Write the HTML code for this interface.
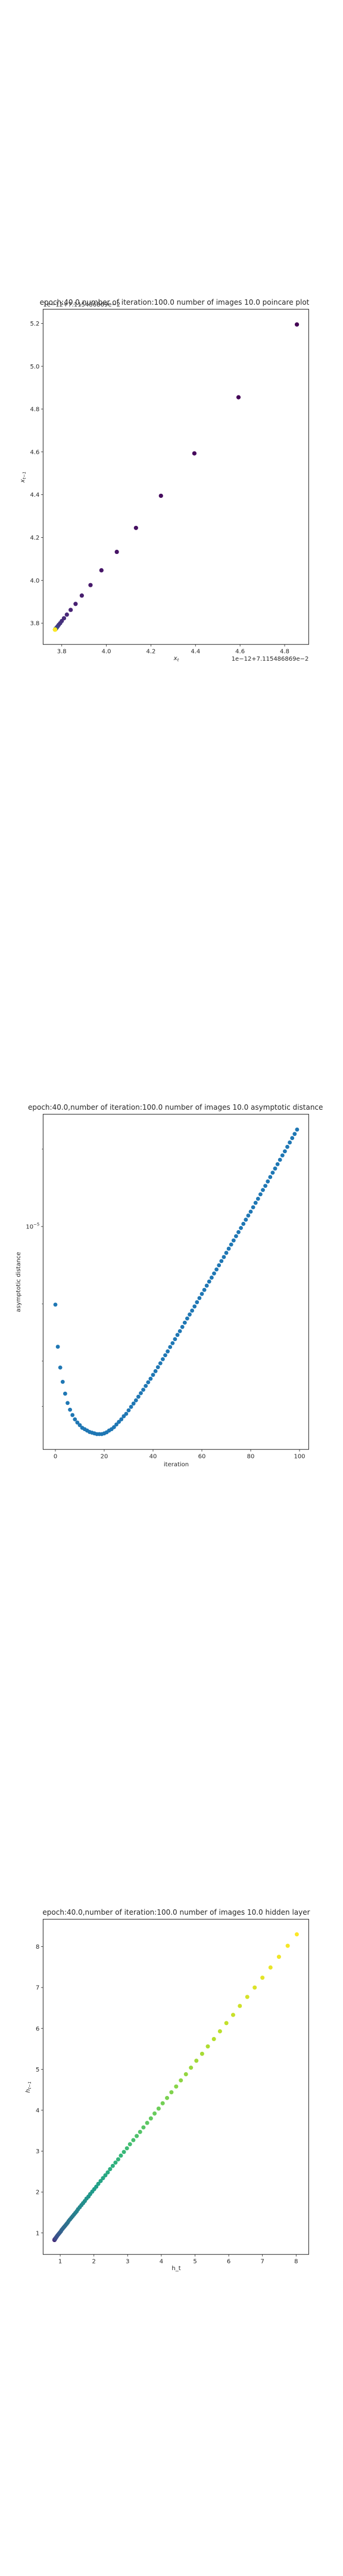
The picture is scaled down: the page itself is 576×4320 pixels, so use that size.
<!DOCTYPE html>
<html><head><meta charset="utf-8"><style>
html,body{margin:0;padding:0;background:#fff}
svg{display:block}
text{font-family:"DejaVu Sans","Liberation Sans",sans-serif;fill:#262626}
</style></head><body>
<svg id="fig" width="576" height="4320" viewBox="0 0 576 4320" xmlns="http://www.w3.org/2000/svg"></svg>
<script>
// ---- Chart 1: poincare plot (sequence x; points are (x[i+1], x[i]))
const poincareSeq = [5.195,4.855,4.593,4.395,4.245,4.133,4.047,3.978,3.929,3.890,3.862,3.840,3.823,3.810,3.800,3.793,3.787,3.783,3.780,3.778,3.776,3.775,3.774,3.773,3.772,3.7715,3.771,3.7708,3.7706,3.7705,3.7704,3.7703,3.7702,3.7702,3.7701,3.7701,3.770,3.770,3.770,3.770,3.770,3.770,3.770,3.770,3.770,3.770,3.770,3.770,3.770,3.770,3.770,3.770,3.770,3.770,3.770,3.770,3.770,3.770,3.770,3.770,3.770,3.770,3.770,3.770,3.770,3.770,3.770,3.770,3.770,3.770,3.770,3.770,3.770,3.770,3.770,3.770,3.770,3.770,3.770,3.770,3.770,3.770,3.770,3.770,3.770,3.770,3.770,3.770,3.770,3.770,3.770,3.770,3.770,3.770,3.770,3.770,3.770,3.770,3.770,3.770];
const poincareXTicks = [3.8,4.0,4.2,4.4,4.6,4.8];
const poincareXTickLabels = ["3.8","4.0","4.2","4.4","4.6","4.8"];
const poincareYTicks = [3.8,4.0,4.2,4.4,4.6,4.8,5.0,5.2];
const poincareYTickLabels = ["3.8","4.0","4.2","4.4","4.6","4.8","5.0","5.2"];

// ---- Chart 2: asymptotic distance (units of 1e-6)
const distIter = Array.from({length:100},(_, i)=>i);
const distValues = [4.97,3.41,2.83,2.49,2.24,2.06,1.94,1.85,1.78,1.73,1.69,1.65,1.63,1.61,1.59,1.58,1.57,1.56,1.56,1.56,1.57,1.585,1.61,1.63,1.66,1.70,1.74,1.78,1.83,1.87,1.93,1.99,2.05,2.11,2.18,2.25,2.32,2.40,2.48,2.56,2.65,2.74,2.84,2.94,3.05,3.16,3.27,3.40,3.52,3.65,3.79,3.92,4.07,4.23,4.39,4.55,4.71,4.89,5.08,5.27,5.47,5.67,5.89,6.11,6.33,6.57,6.81,7.07,7.34,7.61,7.90,8.20,8.51,8.83,9.17,9.51,9.87,10.24,10.63,11.03,11.42,11.88,12.36,12.82,13.34,13.87,14.39,14.97,15.57,16.19,16.80,17.47,18.17,18.90,19.61,20.40,21.22,22.07,22.90,23.82];
const distXTicks = [0,20,40,60,80,100];
const distXTickLabels = ["0","20","40","60","80","100"];
const distMinorTicks = [20,5,3,2];

// ---- Chart 3: hidden layer (sequence h ascending; points (h[i], h[i+1]))
const hiddenSeq = [0.830,0.830,0.830,0.830,0.830,0.830,0.830,0.830,0.830,0.830,0.831,0.832,0.833,0.834,0.836,0.838,0.840,0.845,0.850,0.855,0.860,0.870,0.880,0.890,0.905,0.920,0.940,0.960,0.980,1.00,1.02,1.04,1.07,1.10,1.13,1.16,1.19,1.22,1.25,1.29,1.33,1.37,1.41,1.45,1.49,1.53,1.58,1.63,1.68,1.73,1.78,1.84,1.89,1.95,2.01,2.07,2.13,2.20,2.27,2.34,2.41,2.48,2.56,2.64,2.72,2.80,2.89,2.98,3.07,3.17,3.27,3.37,3.47,3.58,3.69,3.80,3.92,4.04,4.17,4.30,4.44,4.58,4.73,4.88,5.04,5.21,5.38,5.56,5.74,5.93,6.13,6.33,6.55,6.77,7.00,7.24,7.49,7.75,8.02,8.30];
const hiddenXTicks = [1,2,3,4,5,6,7,8];
const hiddenYTicks = [1,2,3,4,5,6,7,8];

const NS="http://www.w3.org/2000/svg";
const svg=document.getElementById('fig');
function mk(tag, attrs, parent){const e=document.createElementNS(NS,tag);for(const k in attrs)e.setAttribute(k,attrs[k]);(parent||svg).appendChild(e);return e;}
const VIR=[[68,1,84],[72,40,120],[62,74,137],[49,104,142],[38,130,142],[31,158,137],[53,183,121],[110,206,88],[181,222,43],[253,231,37]];
function viridis(t){t=Math.max(0,Math.min(1,t));const s=t*(VIR.length-1);const i=Math.min(VIR.length-2,Math.floor(s));const f=s-i;const c=VIR[i].map((v,k)=>Math.round(v+(VIR[i+1][k]-v)*f));return `rgb(${c[0]},${c[1]},${c[2]})`;}

function frame(g,L,R,T,B){
  const r=mk('rect',{x:L,y:T,width:R-L,height:B-T,fill:'none',stroke:'#262626','stroke-width':1},g);
  
  
}
function xtick(g,x,B,label){
  const l=mk('line',{x1:x,y1:B,x2:x,y2:B+3.5,stroke:'#262626','stroke-width':0.8},g);
  
  
  if(label!==null){const t=mk('text',{x:x,y:B+15,'text-anchor':'middle','font-size':'10px'},g);t.textContent=label;
  
  }
}
function ytick(g,L,y,label,len){
  const l=mk('line',{x1:L-(len||3.5),y1:y,x2:L,y2:y,stroke:'#262626','stroke-width':0.8},g);
  
  
  if(label!==null){const t=mk('text',{x:L-6,y:y+3.6,'text-anchor':'end','font-size':'10px'},g);t.innerHTML=label;
  
  }
}
function txt(g,x,y,s,size,anchor,name,rot){
  const t=mk('text',{x:x,y:y,'text-anchor':anchor||'middle','font-size':size},g);
  if(rot)t.setAttribute('transform',`rotate(-90 ${x} ${y})`);
  t.innerHTML=s;
  
  
  return t;
}

// ===== Chart 1
(function(){
  const g=mk('g',{});
  
  
  const L=72.4,R=518.4,T=518.6,B=1080.7;
  const xs=v=>103.7+(v-3.8)*374.3;
  const ys=v=>1045.1-(v-3.8)*359.1;
  const n=poincareSeq.length-1;
  for(let i=0;i<n;i++){
    const c=mk('circle',{cx:xs(poincareSeq[i+1]),cy:ys(poincareSeq[i]),r:3.6,fill:viridis(i/(n-1))},g);
    
    
  }
  frame(g,L,R,T,B);
  poincareXTicks.forEach((v,i)=>xtick(g,xs(v),B,poincareXTickLabels[i]));
  poincareYTicks.forEach((v,i)=>ytick(g,L,ys(v),poincareYTickLabels[i]));
  txt(g,293,511,'epoch:40.0,number of iteration:100.0 number of images 10.0 poincare plot','12px','middle','chart-title');
  txt(g,L,514,'1e−12+7.115486869e−2','10px','start','y-offset-text');
  txt(g,R,1108,'1e−12+7.115486869e−2','10px','end','x-offset-text');
  txt(g,296,1107,'<tspan font-style="italic">x</tspan><tspan font-size="7px" font-style="italic" dy="2">t</tspan>','10px','middle','x-axis-title');
  txt(g,41,800,'<tspan font-style="italic">x</tspan><tspan font-size="7px" font-style="italic" dy="2">t−1</tspan>','10px','middle','y-axis-title',true);
})();

// ===== Chart 2
(function(){
  const g=mk('g',{});
  
  
  const L=72.4,R=518.4,T=1868.6,B=2430.7;
  const xs=v=>93+v*4.1;
  const ys=v=>2056.9-Math.log10(v/10)*431.4; // v in 1e-6
  distValues.forEach((v,i)=>{
    const c=mk('circle',{cx:xs(distIter[i]),cy:ys(v),r:3.4,fill:'#1f77b4'},g);
    
    
  });
  frame(g,L,R,T,B);
  distXTicks.forEach((v,i)=>xtick(g,xs(v),B,distXTickLabels[i]));
  ytick(g,L,ys(10),'10<tspan font-size="7px" dy="-5">−5</tspan>');
  distMinorTicks.forEach(v=>ytick(g,L,ys(v),null,2));
  txt(g,294.7,1861,'epoch:40.0,number of iteration:100.0  number of images 10.0 asymptotic distance','12px','middle','chart-title');
  txt(g,296,2459,'iteration','10px','middle','x-axis-title');
  txt(g,34,2150,'asymptotic distance','10px','middle','y-axis-title',true);
})();

// ===== Chart 3
(function(){
  const g=mk('g',{});
  
  
  const L=72.4,R=518.4,T=3218.6,B=3780.7;
  const xs=v=>101.1+(v-1)*56.6;
  const ys=v=>3744.7-(v-1)*68.6;
  const n=hiddenSeq.length-1;
  for(let i=0;i<n;i++){
    const c=mk('circle',{cx:xs(hiddenSeq[i]),cy:ys(hiddenSeq[i+1]),r:3.5,fill:viridis(i/(n-1))},g);
    
    
  }
  frame(g,L,R,T,B);
  hiddenXTicks.forEach(v=>xtick(g,xs(v),B,String(v)));
  hiddenYTicks.forEach(v=>ytick(g,L,ys(v),String(v)));
  txt(g,296,3211,'epoch:40.0,number of iteration:100.0  number of images 10.0 hidden layer','12px','middle','chart-title');
  txt(g,296,3807,'h_t','10px','middle','x-axis-title');
  txt(g,50,3500,'<tspan font-style="italic">h</tspan><tspan font-size="7px" font-style="italic" dy="2">t−1</tspan>','10px','middle','y-axis-title',true);
})();
</script>
</body></html>
